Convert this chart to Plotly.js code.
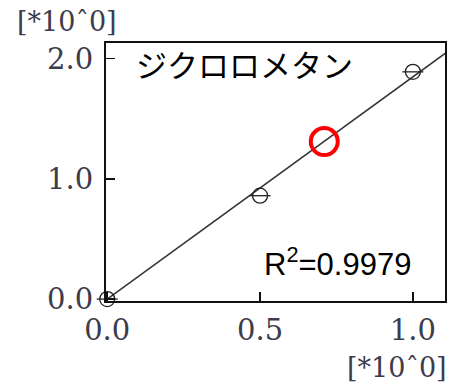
<!DOCTYPE html>
<html>
<head>
<meta charset="utf-8">
<script src="https://cdn.plot.ly/plotly-3.0.1.min.js"></script>
<style>
  html, body { margin: 0; padding: 0; background: #fff; }
  #chart { width: 450px; height: 384px; }
</style>
</head>
<body>
<div id="chart"></div>
<script>
// measured points (open circles)
var xValues = [0.0, 0.5, 1.0];
var yValues = [0.0, 0.86, 1.89];

// fitted line end points
var fitX = [0.0, 1.12];
var fitY = [0.0, 2.07];

// highlighted point (red ring)
var markX = [0.71];
var markY = [1.31];

var tickVals = [0.0, 0.5, 1.0];
var tickText = ['0.0', '0.5', '1.0'];
var yTickVals = [0.0, 1.0, 2.0];
var yTickText = ['0.0', '1.0', '2.0'];

var compoundName = 'ジクロロメタン';
var r2Label = 'R<sup>2</sup>=0.9979';
var unitLabel = '[*10ˆ0]';

var serif = '"DejaVu Serif", "Liberation Serif", serif';
var tickFont = { family: serif, size: 29, color: '#3c3c4c' };

var traces = [
    {
        x: fitX, y: fitY,
        type: 'scatter', mode: 'lines',
        line: { color: '#333333', width: 1.5 },
        hoverinfo: 'skip'
    },
    {
        x: xValues, y: yValues,
        type: 'scatter', mode: 'markers',
        cliponaxis: false,
        marker: { symbol: 'circle-open', size: 15, color: '#222222', line: { width: 1.3, color: '#222222' } }
    },
    {
        x: xValues, y: yValues,
        type: 'scatter', mode: 'markers',
        cliponaxis: false,
        marker: { symbol: 'line-ew-open', size: 15, color: '#222222', line: { width: 1.3, color: '#222222' } }
    },
    {
        x: markX, y: markY,
        type: 'scatter', mode: 'markers',
        cliponaxis: false,
        marker: { symbol: 'circle-open', size: 27, color: '#ff0000', line: { width: 4, color: '#ff0000' } }
    }
];

var layout = {
    width: 450,
    height: 384,
    margin: { l: 106, r: 5, t: 43, b: 83 },
    showlegend: false,
    paper_bgcolor: '#ffffff',
    plot_bgcolor: '#ffffff',
    xaxis: {
        range: [-0.004, 1.105],
        tickvals: tickVals,
        ticktext: tickText,
        ticks: 'inside',
        ticklen: 9,
        tickwidth: 1.5,
        tickcolor: '#111111',
        showgrid: false,
        zeroline: false,
        showline: true,
        mirror: true,
        linecolor: '#111111',
        linewidth: 2,
        tickfont: tickFont,
        ticklabelstandoff: 2
    },
    yaxis: {
        range: [-0.016, 2.13],
        tickvals: yTickVals,
        ticktext: yTickText,
        ticks: 'inside',
        ticklen: 9,
        tickwidth: 1.5,
        tickcolor: '#111111',
        showgrid: false,
        zeroline: false,
        showline: true,
        mirror: true,
        linecolor: '#111111',
        linewidth: 2,
        tickfont: tickFont,
        ticklabelstandoff: 5
    },
    annotations: [
        {
            xref: 'paper', yref: 'paper', x: 0.083, y: 0.92,
            xanchor: 'left', yanchor: 'middle', showarrow: false,
            text: compoundName,
            font: { family: '"Noto Sans CJK JP", sans-serif', size: 31, color: '#000000' }
        },
        {
            xref: 'paper', yref: 'paper', x: 0.46, y: 0.15,
            xanchor: 'left', yanchor: 'middle', showarrow: false,
            text: r2Label,
            font: { family: '"Liberation Sans", Arial, sans-serif', size: 31, color: '#000000' }
        },
        {
            xref: 'paper', yref: 'paper', x: -0.115, y: 1.085,
            xanchor: 'center', yanchor: 'middle', showarrow: false,
            text: unitLabel,
            font: { family: serif, size: 27, color: '#3c3c4c' }
        },
        {
            xref: 'paper', yref: 'paper', x: 0.858, y: -0.256,
            xanchor: 'center', yanchor: 'middle', showarrow: false,
            text: unitLabel,
            font: { family: serif, size: 27, color: '#3c3c4c' }
        }
    ]
};

Plotly.newPlot('chart', traces, layout, { displayModeBar: false, staticPlot: true });
</script>
</body>
</html>
